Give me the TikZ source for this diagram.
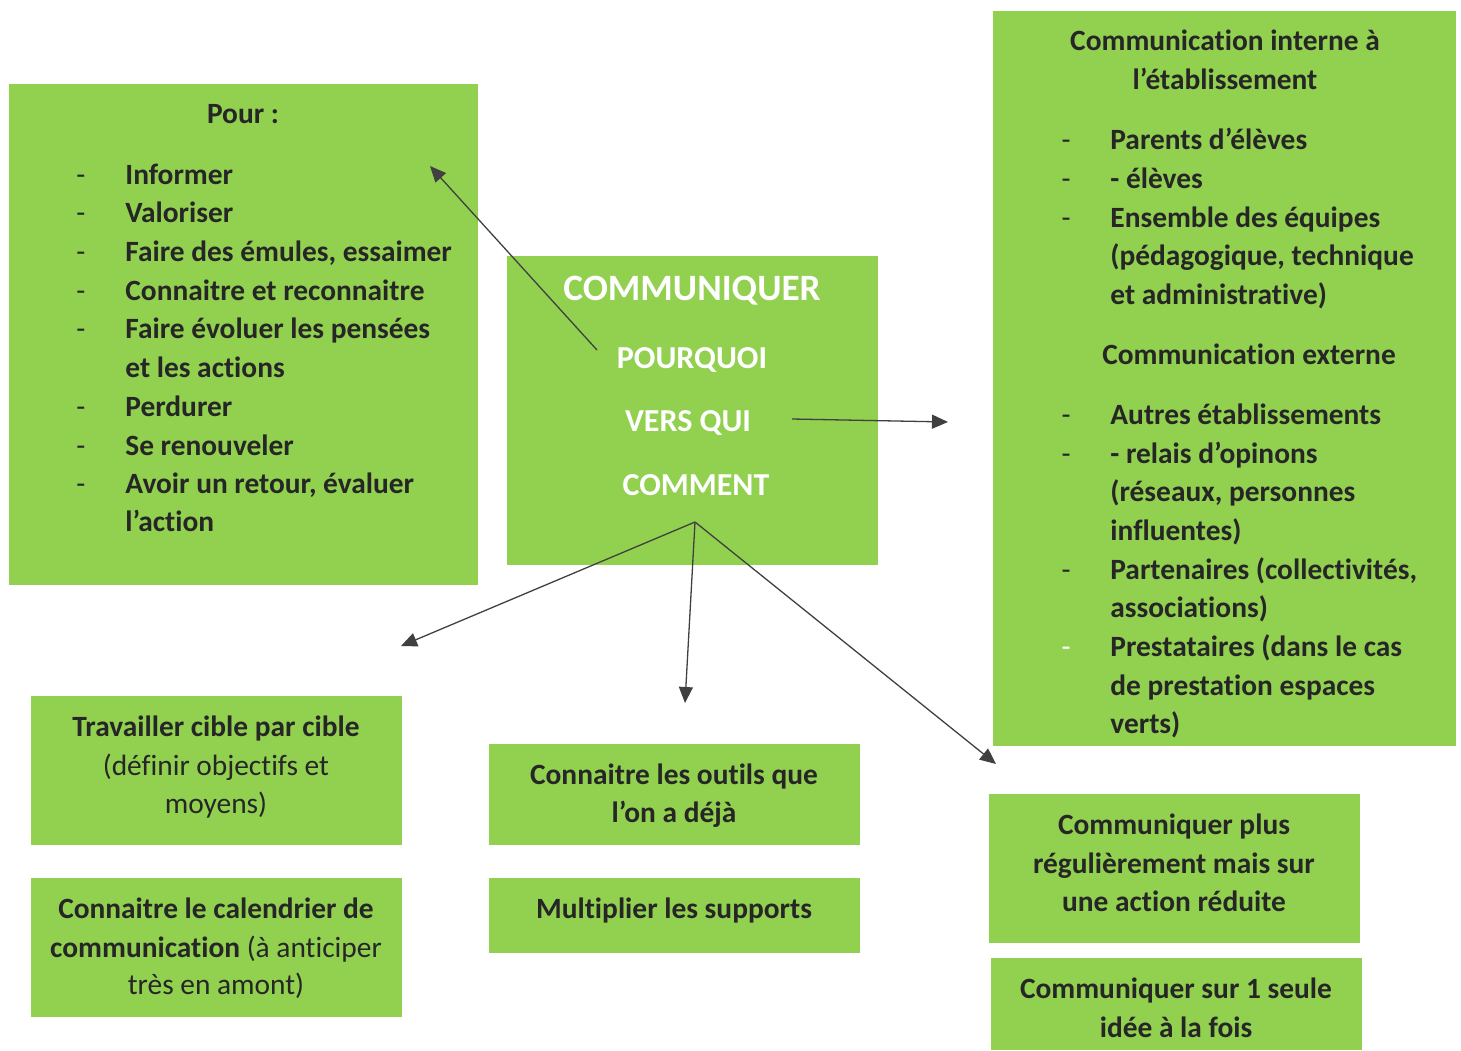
\documentclass[tikz,border=0pt]{standalone}
\usepackage{fontspec}
\setmainfont{Carlito}[Ligatures={NoCommon}]
\usetikzlibrary{arrows.meta}
\definecolor{gr}{HTML}{92D050}
\definecolor{tx}{HTML}{262626}
\definecolor{ar}{HTML}{404040}
\tikzset{
  box/.style={fill=gr, draw=none},
  bt/.style={font=\fontsize{14.7pt}{17pt}\selectfont\bfseries, text=tx, inner sep=0pt, yshift=-2.7pt},
  nt/.style={font=\fontsize{14.7pt}{17pt}\selectfont, text=tx, inner sep=0pt, yshift=-2.7pt, anchor=mid},
  lt/.style={bt, anchor=mid west},
  ct/.style={bt, anchor=mid},
  wt/.style={font=\fontsize{16pt}{19pt}\selectfont\bfseries, text=white, inner sep=0pt, anchor=mid, yshift=-2.8pt},
  dsh/.style={nt},
  arr/.style={draw=ar, line width=0.65pt, -{Triangle[length=8pt,width=7pt]}}
}
\begin{document}
\begin{tikzpicture}[x=0.5pt,y=-0.5pt]
\useasboundingbox (0,0) rectangle (1461,1050);
% boxes
\fill[box] (9,84) rectangle (478,585);
\fill[box] (507,256) rectangle (878,565);
\fill[box] (993,11) rectangle (1456,746);
\fill[box] (31,696) rectangle (402,845);
\fill[box] (31,878) rectangle (402,1017);
\fill[box] (489,744) rectangle (860,845);
\fill[box] (489,878) rectangle (860,953);
\fill[box] (989,794) rectangle (1360,943);
\fill[box] (991,958) rectangle (1362,1050);
% left box
\node[ct] (pour) at (243,113) {Pour :};
\foreach \y/\t [count=\i] in {174/Informer,212/Valoriser,251/{Faire des émules, essaimer},290/Connaitre et reconnaitre,328/Faire évoluer les pensées,406/Perdurer,445/Se renouveler,483/{Avoir un retour, évaluer}}{
  \node[dsh] (ld\i) at (81,\y) {-};
  \node[lt] (lt\i) at (125,\y) {\t};
}
\node[lt] (lx1) at (125,367) {et les actions};
\node[lt] (lx2) at (125,521) {l’action};
% center
\node[font=\fontsize{18.6pt}{21pt}\selectfont\bfseries, text=white, inner sep=0pt, anchor=mid, yshift=-3pt] (comm) at (692,290) {COMMUNIQUER};
\node[wt] (pq) at (692,358) {POURQUOI};
\node[wt] (vq) at (688,421) {VERS QUI};
\node[wt] (cm) at (696,485) {COMMENT};
% right box
\node[ct] (ci1) at (1225,40) {Communication interne à};
\node[ct] (ci2) at (1225,79) {l’établissement};
\foreach \y/\t [count=\i] in {139/Parents d’élèves,178/- élèves,217/Ensemble des équipes,414/Autres établissements,453/- relais d’opinons,569/{Partenaires (collectivités,}}{
  \node[dsh] (rd\i) at (1066,\y) {-};
  \node[lt] (rt\i) at (1110,\y) {\t};
}
\node[dsh, text=white] (rd7) at (1066,646) {-};
\node[lt] (rt7) at (1110,646) {Prestataires (dans le cas};
\node[lt] (rx1) at (1110,255) {(pédagogique, technique};
\node[lt] (rx2) at (1110,294) {et administrative)};
\node[ct] (ce) at (1249,354) {Communication externe};
\node[lt] (rx3) at (1110,491) {(réseaux, personnes};
\node[lt] (rx4) at (1110,530) {influentes)};
\node[lt] (rx5) at (1110,607) {associations)};
\node[lt] (rx6) at (1110,685) {de prestation espaces};
\node[lt] (rx7) at (1110,723) {verts)};
% bottom boxes
\node[ct] (b1a) at (216,726) {Travailler cible par cible};
\node[nt] (b1b) at (216,765) {(définir objectifs et};
\node[nt] (b1c) at (216,803) {moyens)};
\node[ct] (b2a) at (216,908) {Connaitre le calendrier de};
\node[ct] (b2b) at (216,947) {communication\mdseries\ (à anticiper};
\node[nt] (b2c) at (216,984) {très en amont)};
\node[ct] (b3a) at (674,774) {Connaitre les outils que};
\node[ct] (b3b) at (674,812) {l’on a déjà};
\node[ct] (b4) at (674,908) {Multiplier les supports};
\node[ct] (b5a) at (1174,824) {Communiquer plus};
\node[ct] (b5b) at (1174,863) {régulièrement mais sur};
\node[ct] (b5c) at (1174,901) {une action réduite};
\node[ct] (b6a) at (1176,988) {Communiquer sur 1 seule};
\node[ct] (b6b) at (1176,1027) {idée à la fois};
% arrow coordinates
\coordinate (s1) at (597,350);
\coordinate (e1) at (430,166);
\coordinate (s2) at (792,419);
\coordinate (e2) at (948,422);
\coordinate (hub) at (695,522);
\coordinate (e3) at (401,646);
\coordinate (e4) at (685,703);
\coordinate (e5) at (996,764);
\draw[arr] (s1) -- (e1);
\draw[arr] (s2) -- (e2);
\draw[arr] (hub) -- (e3);
\draw[arr] (hub) -- (e4);
\draw[arr] (hub) -- (e5);
\end{tikzpicture}
\end{document}
